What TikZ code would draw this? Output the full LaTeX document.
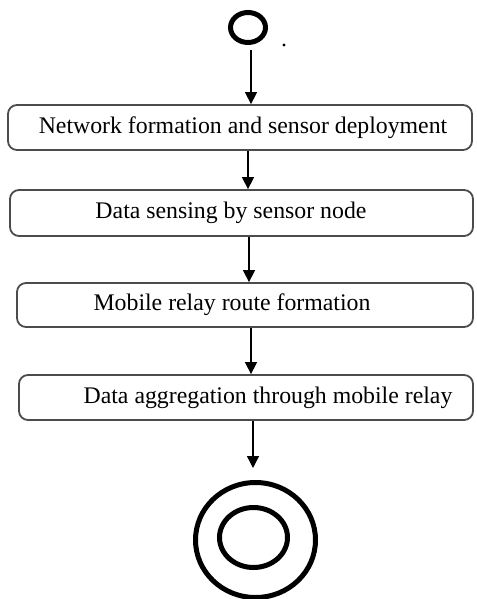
\documentclass[tikz,border=0pt]{standalone}
\usepackage{fontspec}
\setmainfont{Liberation Serif}
\usetikzlibrary{arrows.meta}
\begin{document}
\begin{tikzpicture}[x=1pt,y=-1pt,
  box/.style={draw=black!70, line width=1.8pt, rounded corners=9pt, inner sep=0pt},
  lbl/.style={font=\fontsize{23.8}{26}\selectfont, inner sep=0pt},
  arr/.style={line width=1.4pt, -{Triangle[width=12pt,length=12pt]}},
  ring/.style={line width=5pt}]
\useasboundingbox (0,0) rectangle (476,599);
% start node
\draw[ring] (248,27.5) ellipse [x radius=17.5, y radius=15];
\coordinate (s) at (251,50);
\fill (284,45) circle (1.6);
% boxes
\node[box, minimum width=464pt, minimum height=45pt] (b1) at (240,127.5) {};
\node[lbl] (t1) at (243,127.5) {Network formation and sensor deployment};
\node[box, minimum width=463pt, minimum height=46pt] (b2) at (241.5,213) {};
\node[lbl] (t2) at (231,213) {Data sensing by sensor node};
\node[box, minimum width=456pt, minimum height=44pt] (b3) at (245,305) {};
\node[lbl] (t3) at (232,305) {Mobile relay route formation};
\node[box, minimum width=454pt, minimum height=45pt] (b4) at (246,397.5) {};
\node[lbl] (t4) at (268,397.5) {Data aggregation through mobile relay};
% end node
\draw[ring] (255.5,540) ellipse [x radius=60, y radius=57.5];
\draw[ring] (253.5,537.5) ellipse [x radius=34, y radius=30];
\coordinate (e) at (253,468);
% arrows
\draw[arr] (s) -- (s |- b1.north);
\draw[arr] ([xshift=8pt]b1.south) -- ([xshift=8pt]b1.south |- b2.north);
\draw[arr] ([xshift=7.5pt]b2.south) -- ([xshift=7.5pt]b2.south |- b3.north);
\draw[arr] ([xshift=6pt]b3.south) -- ([xshift=6pt]b3.south |- b4.north);
\draw[arr] (b4.south -| e) -- (e);
\end{tikzpicture}
\end{document}
